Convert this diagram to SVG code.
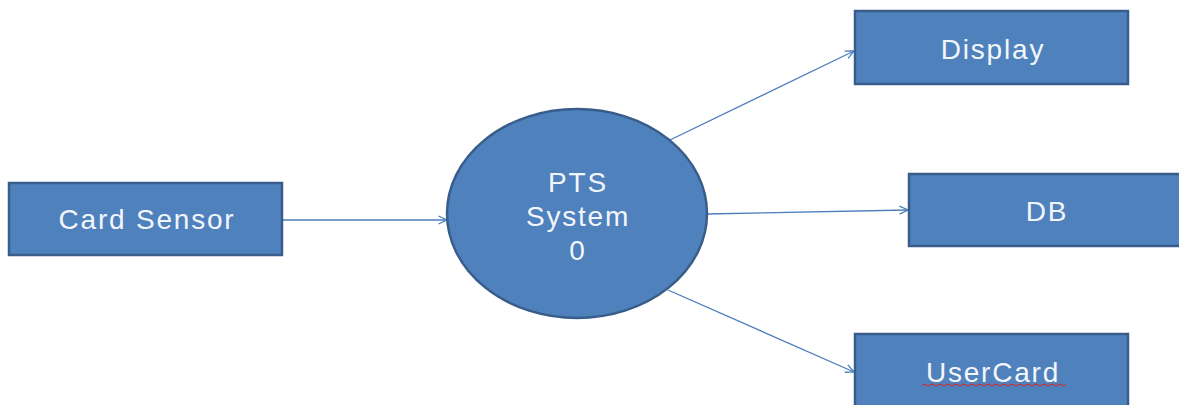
<svg xmlns="http://www.w3.org/2000/svg" width="1179" height="405" viewBox="0 0 1179 405">
<style>
.box{fill:#4f81bd;stroke:#385d8a;stroke-width:2.5}
.lbl{font-family:"Liberation Sans",Arial,sans-serif;font-size:28px;letter-spacing:1.8px;fill:#f2f6fb;text-anchor:middle;dominant-baseline:central}
.conn{stroke:#4a7ebb;stroke-width:1.3;fill:none;marker-end:url(#arr)}
</style>
<defs>
<marker id="arr" viewBox="0 0 10 10" refX="9.5" refY="5" markerWidth="10" markerHeight="10" markerUnits="userSpaceOnUse" orient="auto">
<path d="M1,1 L9.5,5 L1,9" fill="none" stroke="#4a7ebb" stroke-width="1.3"/>
</marker>
</defs>
<rect width="1179" height="405" fill="#fff"/>
<g id="connectors">
<line class="conn" x1="283" y1="220" x2="447" y2="220"/>
<line class="conn" x1="670" y1="140" x2="854" y2="51"/>
<line class="conn" x1="707" y1="214" x2="908" y2="210"/>
<line class="conn" x1="668" y1="290" x2="854" y2="372"/>
</g>
<g id="card-sensor">
<rect class="box" x="9" y="183" width="273" height="72"/>
<text class="lbl" x="147" y="219">Card Sensor</text>
</g>
<g id="pts-system">
<ellipse class="box" cx="577" cy="213.5" rx="130" ry="104.5"/>
<text class="lbl" x="578" y="182">PTS</text>
<text class="lbl" x="578" y="216">System</text>
<text class="lbl" x="578" y="250">0</text>
</g>
<g id="display">
<rect class="box" x="855" y="11" width="273" height="73"/>
<text class="lbl" x="993" y="49">Display</text>
</g>
<g id="db">
<rect class="box" x="909" y="174" width="275" height="72"/>
<text class="lbl" x="1047" y="211">DB</text>
</g>
<g id="usercard">
<rect class="box" x="855" y="334" width="273" height="80"/>
<text class="lbl" x="993" y="372">UserCard</text>
<path d="M922,385 q2,-2 4,0 t4,0 t4,0 t4,0 t4,0 t4,0 t4,0 t4,0 t4,0 t4,0 t4,0 t4,0 t4,0 t4,0 t4,0 t4,0 t4,0 t4,0 t4,0 t4,0 t4,0 t4,0 t4,0 t4,0 t4,0 t4,0 t4,0 t4,0 t4,0 t4,0 t4,0 t4,0 t4,0 t4,0 t4,0 t4,0" fill="none" stroke="#e02020" stroke-width="1"/>
</g>
</svg>
